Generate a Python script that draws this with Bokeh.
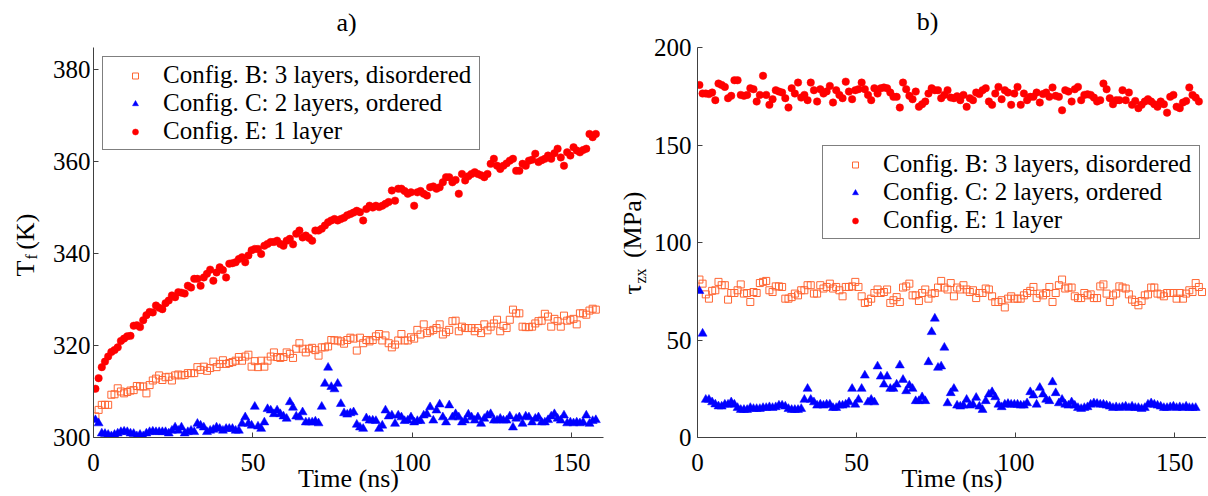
import math
from bokeh.plotting import figure
from bokeh.layouts import row
from bokeh.models import Range1d, FixedTicker, Legend, LegendItem, Label
from bokeh.embed import file_html
from bokeh.resources import INLINE

FONT = "Liberation Serif"
ORANGE = "#FF6633"
BLUE = "#0000FF"
RED = "#FF0000"

labels = ["Config. B: 3 layers, disordered", "Config. C: 2 layers, ordered", "Config. E: 1 layer"]
x_ticks = [0, 50, 100, 150]
tf_ticks = [300, 320, 340, 360, 380]
tau_ticks = [0, 50, 100, 150, 200]

# ---- panel a): fluid temperature T_f (K) ----
tf_B = [304.6, 306.0, 307.1, 307.1, 307.1, 309.3, 309.4, 310.7, 310.0, 309.6,
        309.9, 310.2, 310.3, 311.2, 311.1, 311.1, 309.6, 311.4, 312.4, 312.8,
        313.5, 312.5, 313.1, 313.2, 312.4, 313.5, 313.7, 313.5, 313.6, 314.0,
        314.0, 314.0, 315.3, 314.7, 315.4, 314.5, 315.1, 316.5, 315.3, 316.0,
        316.8, 316.0, 316.2, 316.4, 316.7, 317.5, 316.7, 317.6, 318.0, 315.4,
        316.6, 315.3, 316.7, 315.4, 316.7, 317.6, 318.5, 317.5, 317.3, 317.5,
        318.5, 318.2, 317.3, 319.3, 320.5, 319.3, 318.5, 319.3, 319.5, 319.0,
        317.8, 319.6, 319.6, 319.8, 321.2, 321.1, 321.1, 320.9, 320.4, 321.2,
        321.7, 321.5, 318.9, 321.7, 320.5, 321.2, 320.9, 321.2, 322.0, 322.5,
        321.1, 322.2, 320.5, 319.6, 320.2, 321.1, 322.5, 321.1, 321.1, 321.8,
        321.5, 323.4, 322.4, 324.6, 322.7, 323.1, 323.4, 323.8, 324.6, 322.4,
        322.9, 323.4, 325.3, 325.4, 323.1, 324.1, 323.8, 323.8, 323.8, 323.1,
        323.8, 322.7, 324.6, 323.3, 324.1, 324.8, 325.6, 323.1, 324.3, 323.8,
        325.6, 327.8, 327.0, 327.0, 324.1, 324.0, 324.0, 324.1, 324.8, 325.3,
        325.4, 326.9, 326.3, 324.1, 325.8, 325.3, 324.1, 326.5, 325.4, 325.6,
        325.8, 324.6, 327.0, 327.0, 326.7, 327.6, 328.0, 327.8]

tf_C = [303.8, 303.1, 300.9, 300.8, 300.6, 300.3, 300.6, 300.9, 301.2, 301.3,
        301.2, 300.9, 300.8, 300.3, 300.6, 300.3, 300.9, 301.2, 301.3, 301.2,
        301.2, 301.2, 301.2, 300.9, 301.5, 302.2, 301.5, 302.2, 300.9, 301.2,
        301.5, 301.2, 303.0, 302.6, 302.2, 301.2, 301.5, 301.7, 302.2, 301.9,
        301.5, 301.9, 301.9, 301.9, 301.5, 301.5, 303.0, 304.4, 303.0, 302.6,
        306.7, 302.4, 301.9, 303.3, 306.2, 305.9, 305.1, 305.9, 305.1, 304.6,
        304.1, 307.7, 306.5, 304.6, 304.4, 305.5, 303.3, 303.3, 303.3, 303.5,
        303.1, 306.7, 311.7, 315.2, 311.0, 310.5, 311.7, 307.3, 305.3, 305.0,
        305.3, 305.5, 302.8, 302.2, 301.9, 304.2, 303.7, 303.7, 303.6, 301.9,
        302.6, 305.9, 304.6, 304.8, 303.0, 304.8, 304.4, 303.6, 303.7, 304.4,
        303.3, 303.6, 303.6, 304.8, 305.1, 306.6, 303.7, 305.9, 307.2, 304.4,
        303.3, 307.0, 304.4, 305.1, 304.4, 303.3, 303.7, 305.0, 304.4, 303.7,
        304.4, 303.0, 304.1, 304.8, 305.1, 303.7, 303.7, 304.1, 303.7, 303.7,
        304.6, 302.2, 304.1, 304.4, 303.0, 304.6, 304.4, 303.3, 304.1, 304.4,
        303.3, 303.3, 303.8, 304.6, 305.1, 304.1, 303.7, 304.8, 303.1, 303.3,
        303.1, 303.3, 303.1, 303.3, 304.8, 303.0, 303.6, 303.8]

tf_E = [310.6, 312.9, 315.3, 316.5, 317.6, 318.6, 319.0, 319.6, 321.0, 321.5,
        322.0, 322.1, 324.3, 324.4, 324.0, 325.5, 326.6, 327.3, 327.2, 328.7,
        328.2, 327.9, 329.2, 329.8, 330.9, 330.5, 331.6, 331.5, 331.3, 333.0,
        332.6, 334.5, 334.5, 333.0, 334.8, 335.6, 336.5, 334.1, 335.9, 337.0,
        336.4, 334.8, 337.8, 337.9, 338.1, 338.8, 339.2, 338.1, 339.6, 340.7,
        341.0, 341.0, 339.9, 341.7, 342.1, 342.5, 342.5, 342.8, 342.1, 341.7,
        342.8, 343.2, 342.0, 344.3, 345.0, 343.5, 343.9, 343.4, 342.8, 345.0,
        345.0, 345.4, 346.1, 346.8, 347.2, 347.5, 347.2, 347.5, 347.8, 348.3,
        348.6, 348.9, 349.3, 349.0, 347.2, 349.7, 350.4, 350.0, 350.4, 350.1,
        350.4, 350.8, 351.2, 353.7, 351.5, 354.1, 354.1, 353.6, 353.0, 353.3,
        350.4, 353.3, 353.6, 353.0, 352.6, 354.4, 354.6, 354.1, 354.4, 355.5,
        356.6, 356.6, 355.5, 356.0, 353.0, 357.3, 355.9, 356.8, 357.3, 357.7,
        357.3, 357.0, 356.6, 357.3, 359.5, 360.6, 359.1, 358.4, 359.1, 359.6,
        360.2, 360.6, 358.0, 358.0, 359.5, 359.1, 360.2, 360.4, 361.7, 359.9,
        360.3, 360.6, 361.3, 360.6, 361.8, 362.8, 360.9, 359.1, 362.0, 361.3,
        363.1, 362.4, 362.0, 362.5, 362.8, 366.0, 365.3, 366.0]

# ---- panel b): shear stress tau_zx (MPa) ----
tau_B = [81.0, 78.9, 73.4, 71.2, 75.2, 75.5, 79.8, 78.1, 78.1, 70.7,
         74.1, 74.1, 75.5, 78.5, 73.8, 74.1, 69.5, 74.6, 74.1, 79.2,
         79.8, 80.3, 75.5, 74.6, 77.5, 77.5, 77.2, 71.2, 71.2, 72.0,
         73.8, 72.9, 75.5, 75.5, 78.1, 78.1, 73.8, 73.8, 78.1, 76.4,
         77.2, 78.9, 76.4, 77.2, 75.5, 72.4, 77.2, 77.2, 77.5, 79.8,
         77.2, 72.4, 69.0, 69.5, 71.2, 74.1, 75.9, 74.1, 74.6, 75.9,
         69.0, 70.4, 72.0, 69.5, 76.9, 77.5, 78.9, 72.9, 72.9, 70.0,
         74.1, 75.9, 71.2, 73.8, 74.1, 76.9,
         80.3, 76.9, 75.9, 79.2, 72.4, 76.9, 75.9, 78.1, 75.9, 74.6,
         75.5, 71.5, 74.1, 74.1, 76.4, 75.9, 72.4, 69.5, 69.5, 70.4,
         66.7, 71.2, 72.4, 71.2, 71.2, 71.2, 72.9, 74.1, 75.2, 77.2,
         71.5, 73.8, 72.9, 74.1, 77.2, 69.5, 74.1, 78.1, 81.0, 76.4,
         76.9, 76.9, 72.4, 71.5, 71.5, 74.1, 72.9, 73.4, 71.5, 71.5,
         77.5, 78.5, 73.8, 69.5, 72.9, 73.8, 77.5, 76.9, 76.4, 73.4,
         70.7, 69.5, 67.8, 70.0, 72.9, 73.4, 76.9, 76.9, 73.8, 73.4,
         72.4, 74.1, 74.1, 74.1, 71.2, 74.1, 71.2, 73.8, 75.5, 74.6,
         79.2, 77.2, 74.6]

tau_C = [75.2, 53.3, 19.4, 19.4, 18.1, 17.0, 16.0, 15.9, 16.9, 16.9,
         18.1, 16.9, 15.2, 14.2, 14.2, 14.2, 15.2, 14.7, 14.7, 14.7,
         15.2, 15.2, 15.6, 15.2, 15.6, 16.4, 16.4, 15.9, 14.7, 14.2,
         14.2, 14.2, 14.7, 19.4, 25.0, 19.4, 18.1, 16.4, 16.9, 16.4,
         16.9, 16.9, 15.2, 15.2, 16.4, 16.4, 16.9, 18.1, 25.0, 16.9,
         19.4, 25.0, 31.8, 18.1, 19.4, 18.1, 36.5, 31.3, 27.2, 31.3,
         25.0, 25.0, 27.2, 37.0, 29.6, 23.8, 26.7, 25.0, 18.7, 18.7,
         20.7, 18.7, 38.7, 54.1, 61.0, 35.8,
         36.5, 46.1, 17.6, 22.8, 25.0, 16.4, 15.9, 16.4, 19.4, 16.4,
         16.9, 20.4, 15.9, 14.2, 18.7, 22.1, 23.3, 20.7, 16.9, 15.6,
         16.9, 17.3, 16.9, 16.9, 16.9, 16.4, 16.4, 17.6, 23.3, 21.6,
         16.9, 25.5, 22.1, 19.4, 18.7, 28.4, 22.8, 17.6, 19.4, 16.9,
         16.4, 18.1, 16.4, 15.2, 14.7, 15.2, 15.6, 16.9, 17.6, 17.3,
         16.9, 16.9, 16.4, 15.9, 15.2, 15.6, 15.2, 15.6, 15.9, 15.2,
         15.9, 15.2, 15.2, 14.7, 15.2, 16.9, 17.6, 16.9, 16.4, 15.9,
         15.2, 15.2, 15.6, 15.9, 15.2, 15.6, 15.2, 15.9, 15.2, 15.2,
         15.2]

tau_E = [180.8, 176.4, 176.4, 176.1, 176.9, 173.0, 181.5, 180.8, 179.8, 174.0,
         175.2, 183.2, 183.2, 175.7, 175.2, 175.7, 179.1, 178.6, 172.3, 175.7,
         185.5, 175.7, 170.6, 173.5, 178.1, 177.4, 176.9, 174.0, 169.2, 179.1,
         176.4, 182.0, 174.3, 175.7, 173.0, 182.0, 178.1, 172.3, 178.6, 176.4,
         177.5, 180.3, 171.8, 178.1, 175.7, 174.0, 182.5, 177.4, 173.5, 178.1,
         178.6, 182.0, 178.6, 175.7, 173.0, 179.1, 176.4, 179.1, 179.5, 179.1,
         176.9, 174.7, 174.7, 169.2, 182.0, 178.6, 175.2, 173.5, 177.4, 169.6,
         170.9, 172.3, 176.4, 179.1, 178.1, 178.1, 174.0, 175.7, 178.1, 174.3,
         174.0, 175.0, 173.0, 175.7, 169.6, 174.0, 173.0, 176.9, 176.1, 178.1,
         179.1, 172.3, 170.6, 176.4, 179.8, 173.5, 178.1, 176.9, 170.6, 176.4,
         179.8, 170.6, 176.4, 173.0, 174.7, 174.7, 176.9, 171.8, 176.1, 176.9,
         174.7, 179.5, 175.2, 174.7, 167.8, 178.1, 177.4, 172.3, 178.6, 179.8,
         173.0, 175.7, 176.0, 175.7, 174.3, 172.3, 173.0, 181.5, 178.6, 174.0,
         170.9, 173.0, 173.0, 178.1, 173.0, 176.9, 170.6, 172.6, 168.9, 170.6,
         172.3, 173.5, 172.3, 170.9, 169.6, 172.3, 170.9, 166.6, 174.7, 175.7,
         169.6, 168.9, 171.8, 172.6, 179.5, 175.7, 174.3, 172.3]


def times(values):
    # one sample per ns, starting a little after t = 0
    return [0.6 + i for i in range(len(values))]


def style_axes(p, yticks, y_standoff):
    p.outline_line_color = None
    p.xgrid.visible = False
    p.ygrid.visible = False
    p.xaxis.ticker = FixedTicker(ticks=x_ticks)
    p.yaxis.ticker = FixedTicker(ticks=yticks)
    for ax in (p.xaxis[0], p.yaxis[0]):
        ax.axis_line_color = "#404040"
        ax.axis_line_width = 1
        ax.major_tick_line_color = "#404040"
        ax.major_tick_in = 5
        ax.major_tick_out = 0
        ax.minor_tick_line_color = None
        ax.major_label_text_font = FONT
        ax.major_label_text_font_size = "25px"
        ax.major_label_text_color = "black"
    p.xaxis.major_label_standoff = 16
    p.yaxis.major_label_standoff = y_standoff
    p.xaxis.axis_label = "Time (ns)"
    p.xaxis.axis_label_text_font = FONT
    p.xaxis.axis_label_text_font_size = "26px"
    p.xaxis.axis_label_text_font_style = "normal"
    p.xaxis.axis_label_text_color = "black"
    p.xaxis.axis_label_standoff = -10


def add_series(p, xs_b, yb, xs_c, yc, xs_e, ye):
    rb = p.scatter(xs_b, yb, marker="square", size=7, fill_color=None,
                   line_color=ORANGE, line_width=1)
    rc = p.scatter(xs_c, yc, marker="triangle", size=9, fill_color=BLUE,
                   line_color=BLUE, line_width=0.5)
    re = p.scatter(xs_e, ye, marker="circle", size=7.5, fill_color=RED,
                   line_color=RED, line_width=0.5)
    return rb, rc, re


def add_legend(p, rends, loc):
    items = [LegendItem(label=l, renderers=[r]) for l, r in zip(labels, rends)]
    lg = Legend(items=items, location=loc, margin=0, padding=4, spacing=0,
                glyph_width=56, glyph_height=15, label_standoff=0,
                label_height=28, label_width=312,
                label_text_font=FONT, label_text_font_size="25px",
                label_text_color="black",
                border_line_color="black", border_line_width=1,
                background_fill_color="white", background_fill_alpha=1.0)
    p.add_layout(lg)


def txt(p, side, text, x, y, size="26px", angle=0.0, align="left"):
    p.add_layout(Label(x=x, y=y, x_units="canvas", y_units="canvas", text=text,
                       angle=angle, text_align=align, text_baseline="alphabetic",
                       text_font=FONT, text_font_size=size, text_color="black"), side)


V = math.pi / 2
H = 496

# Panel a  (canvas origin = page (0, 0))
p1 = figure(width=612, height=H, x_range=Range1d(0, 160), y_range=Range1d(300, 384.8),
            output_backend="svg", toolbar_location=None,
            min_border_left=93, min_border_right=9, min_border_top=47, min_border_bottom=H - 437)
style_axes(p1, tf_ticks, 3)
r1 = add_series(p1, times(tf_B), tf_B, times(tf_C), tf_C, times(tf_E), tf_E)
add_legend(p1, r1, (9, 287))
txt(p1, "above", "a)", 346, 22, align="center")
txt(p1, "above", "f", 31, 259, size="16px", angle=V)
txt(p1, "left", "T\u2005\u2006(K)", 25, 276, angle=V)

# Panel b  (canvas origin = page (612, 0))
p2 = figure(width=594, height=H, x_range=Range1d(0, 160), y_range=Range1d(0, 200),
            output_backend="svg", toolbar_location=None,
            min_border_left=85, min_border_right=0, min_border_top=47, min_border_bottom=H - 437)
style_axes(p2, tau_ticks, 6)
r2 = add_series(p2, times(tau_B), tau_B, times(tau_C), tau_C, times(tau_E), tau_E)
add_legend(p2, r2, (125, 198))
txt(p2, "above", "b)", 315, 21, align="center")
txt(p2, "above", "zx", 28, 283, size="16px", angle=V)
txt(p2, "left", "\u03c4\u2007\u2007(MPa)", 20, 294, angle=V)

layout = row(p1, p2)
open("out.html", "w").write(file_html(layout, INLINE))
